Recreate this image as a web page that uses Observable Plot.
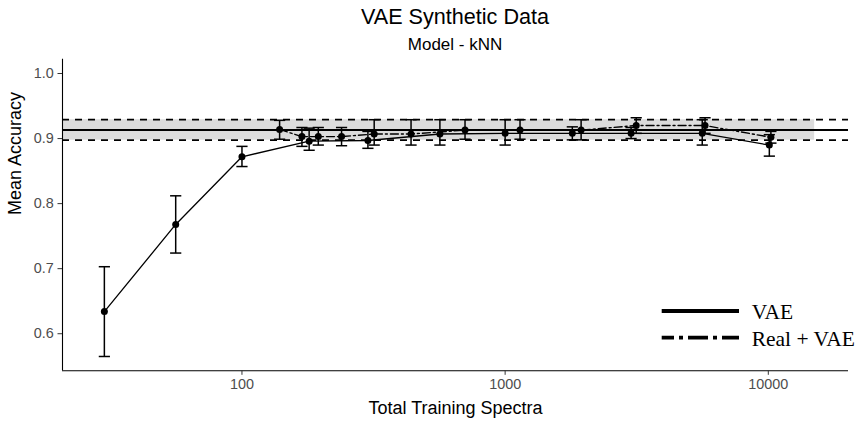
<!DOCTYPE html>
<html>
<head>
<meta charset="utf-8">
<script src="https://cdn.jsdelivr.net/npm/d3@7"></script>
<script src="https://cdn.jsdelivr.net/npm/@observablehq/plot@0.6"></script>
<style>
  html, body { margin: 0; padding: 0; background: white; overflow: hidden; }
  #wrap { position: relative; width: 861px; height: 423px; font-family: "Liberation Sans", Arial, sans-serif; }
  #header { position: relative; height: 56px; }
  .title { position: absolute; left: 62px; width: 786px; text-align: center; line-height: 1; color: black; white-space: nowrap; }
  #t1 { top: 6px; font-size: 21.6px; }
  #t2 { top: 36px; font-size: 17px; }
  #legend { position: absolute; left: 650px; top: 290px; }
</style>
</head>
<body>
<div id="wrap">
  <div id="header">
    <div class="title" id="t1">VAE Synthetic Data</div>
    <div class="title" id="t2">Model - kNN</div>
  </div>
  <div id="chart"></div>
  <svg id="legend" width="211" height="70" xmlns="http://www.w3.org/2000/svg">
    <line x1="11.7" x2="89" y1="21" y2="21" stroke="black" stroke-width="3.8"/>
    <line x1="11.7" x2="89" y1="47.7" y2="47.7" stroke="black" stroke-width="3.8" stroke-dasharray="20,5,4,5" stroke-dashoffset="7.7"/>
    <text x="101.7" y="29.3" font-family="'Liberation Serif', 'Times New Roman', serif" font-size="21.5" fill="black">VAE</text>
    <text x="101.7" y="55.7" font-family="'Liberation Serif', 'Times New Roman', serif" font-size="21.5" fill="black">Real + VAE</text>
  </svg>
</div>
<script>
// ---- Data ----
const seriesNames = ["VAE", "Real + VAE"];

const vaeX  = [30, 56, 100, 180, 301, 565, 1000, 1800, 3010, 5610, 10090];
const vaeY  = [0.634, 0.768, 0.872, 0.896, 0.897, 0.907, 0.908, 0.908, 0.908, 0.908, 0.890];
const vaeLo = [0.565, 0.724, 0.857, 0.882, 0.885, 0.890, 0.890, 0.898, 0.900, 0.890, 0.873];
const vaeHi = [0.703, 0.812, 0.888, 0.916, 0.911, 0.929, 0.929, 0.918, 0.917, 0.929, 0.906];

const realX  = [139, 169, 195, 239, 318, 439, 704, 1139, 1944, 3148, 5749, 10229];
const realY  = [0.914, 0.903, 0.903, 0.903, 0.907, 0.907, 0.913, 0.913, 0.913, 0.920, 0.920, 0.902];
const realLo = [0.899, 0.888, 0.890, 0.889, 0.890, 0.890, 0.899, 0.899, 0.898, 0.908, 0.908, 0.893];
const realHi = [0.928, 0.917, 0.917, 0.917, 0.929, 0.929, 0.929, 0.929, 0.929, 0.932, 0.932, 0.911];

// reference (real-data) accuracy band
const refMean = 0.913;
const refLo = 0.8975;
const refHi = 0.929;
const bandXmax = 15000;

const xTicks = [100, 1000, 10000];
const yTicks = [0.6, 0.7, 0.8, 0.9, 1.0];
const xDomain = [20.8, 20170];
const yDomain = [0.543, 1.022];

// ---- Build tables ----
const rows = [
  ...vaeX.map((x, i) => ({series: seriesNames[0], x, y: vaeY[i], lo: vaeLo[i], hi: vaeHi[i]})),
  ...realX.map((x, i) => ({series: seriesNames[1], x, y: realY[i], lo: realLo[i], hi: realHi[i]}))
];
const vaeRows = rows.filter(d => d.series === seriesNames[0]);
const realRows = rows.filter(d => d.series === seriesNames[1]);
const band = [{x1: xDomain[0], x2: bandXmax, y1: refLo, y2: refHi}];

// horizontal cap symbol for error bars
const capSymbol = {
  draw(context, size) {
    const w = Math.sqrt(size / Math.PI);
    context.moveTo(-w, 0);
    context.lineTo(w, 0);
  }
};

const chart = Plot.plot({
  width: 861,
  height: 367,
  marginTop: 2.7,
  marginBottom: 52.7,
  marginLeft: 62,
  marginRight: 13,
  style: {fontFamily: "'Liberation Sans', Arial, sans-serif", background: "white", color: "black"},
  x: {type: "log", domain: xDomain},
  y: {domain: yDomain},
  marks: [
    Plot.rect(band, {x1: "x1", x2: "x2", y1: "y1", y2: "y2", fill: "#dcdcdc"}),
    Plot.ruleY([refMean], {stroke: "black", strokeWidth: 2}),
    Plot.ruleY([refLo, refHi], {stroke: "black", strokeWidth: 1.7, strokeDasharray: "7,6"}),
    // axis lines
    Plot.ruleX([xDomain[0]], {stroke: "black", strokeWidth: 1.1}),
    Plot.ruleY([yDomain[0]], {stroke: "black", strokeWidth: 1.1}),
    Plot.axisX({ticks: xTicks, tickFormat: d => String(d), tickSize: 4.5, tickPadding: 3.5,
      fontSize: 14.4, stroke: "#333333", fill: "#4d4d4d", label: null}),
    Plot.axisY({ticks: yTicks, tickFormat: d3.format(".1f"), tickSize: 4.5, tickPadding: 4.2,
      fontSize: 14.4, stroke: "#333333", fill: "#4d4d4d", label: null}),
    Plot.text(["Mean Accuracy"], {frameAnchor: "left", dx: -47, rotate: -90, fontSize: 18, fill: "black"}),
    Plot.text(["Total Training Spectra"], {frameAnchor: "bottom", dy: 43, fontSize: 18, fill: "black"}),
    // lines
    Plot.line(vaeRows, {x: "x", y: "y", stroke: "black", strokeWidth: 1.3}),
    Plot.line(realRows, {x: "x", y: "y", stroke: "black", strokeWidth: 1.4, strokeDasharray: "8,3,2,3"}),
    // error bars
    Plot.link(rows, {x1: "x", x2: "x", y1: "lo", y2: "hi", stroke: "black", strokeWidth: 1.5}),
    Plot.dot(rows, {x: "x", y: "lo", symbol: capSymbol, r: 5.6, stroke: "black", strokeWidth: 1.5, fill: "none"}),
    Plot.dot(rows, {x: "x", y: "hi", symbol: capSymbol, r: 5.6, stroke: "black", strokeWidth: 1.5, fill: "none"}),
    // points
    Plot.dot(rows, {x: "x", y: "y", r: 3.5, fill: "black", stroke: "none"})
  ]
});
document.getElementById("chart").appendChild(chart);
</script>
</body>
</html>
